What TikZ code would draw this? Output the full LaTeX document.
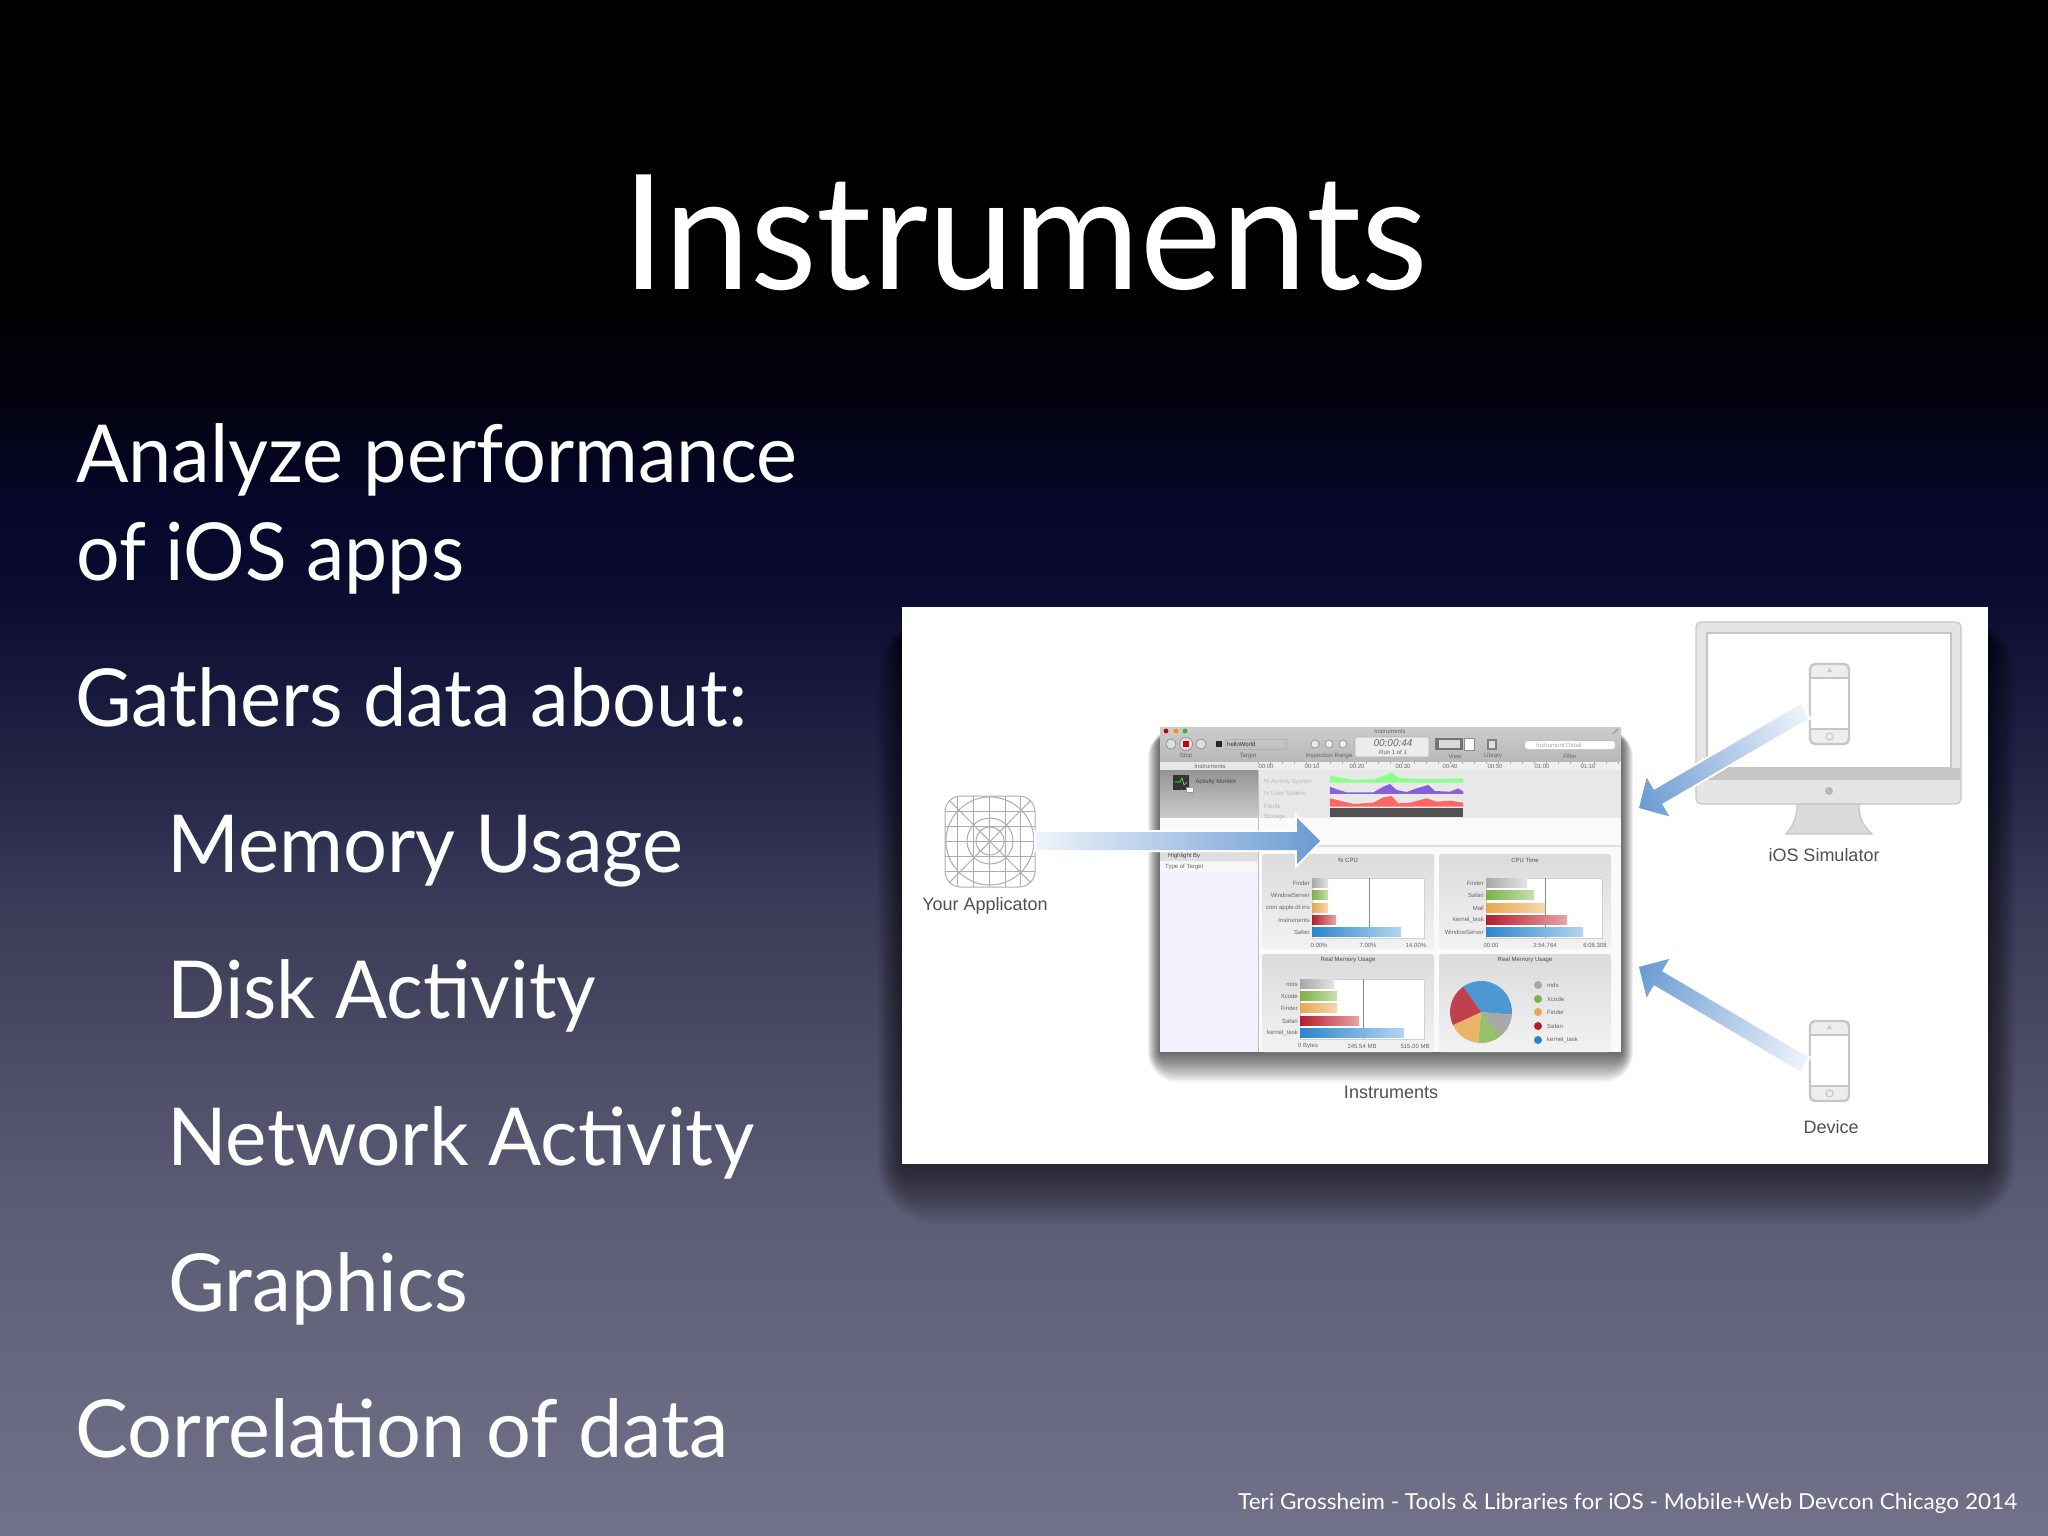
\documentclass[tikz,border=0pt]{standalone}
\usepackage{fontspec}
\usepackage{graphicx}
\setmainfont{Lato}
\newfontfamily\hv{Liberation Sans}
\usetikzlibrary{calc}
\definecolor{s0}{HTML}{000000}
\definecolor{s1}{HTML}{020210}
\definecolor{s2}{HTML}{06062A}
\definecolor{s3}{HTML}{0C0C30}
\definecolor{s4}{HTML}{1A1A3E}
\definecolor{s5}{HTML}{28284B}
\definecolor{s6}{HTML}{3A3A58}
\definecolor{s7}{HTML}{45455F}
\definecolor{s8}{HTML}{50506A}
\definecolor{s9}{HTML}{5B5B75}
\definecolor{s10}{HTML}{62627A}
\definecolor{s11}{HTML}{71718A}
\pgfdeclareverticalshading{slidebg}{100bp}{color(0bp)=(s11);color(25bp)=(s11);color(32.7bp)=(s10);color(35.95bp)=(s9);color(39.2bp)=(s8);color(42.45bp)=(s7);color(45.7bp)=(s6);color(48.95bp)=(s5);color(52.2bp)=(s4);color(55.47bp)=(s3);color(58.7bp)=(s2);color(61.98bp)=(s1);color(65.2bp)=(s0);color(100bp)=(s0)}
\definecolor{arrowblue}{HTML}{6A9BD3}
\definecolor{arrowpale}{HTML}{EEF3FA}
\definecolor{linegray}{HTML}{C6C6C6}
\definecolor{inktext}{HTML}{505050}
\definecolor{bgrayA}{HTML}{A8A8A8}\definecolor{bgrayB}{HTML}{E4E4E4}
\definecolor{bgreenA}{HTML}{7DB04A}\definecolor{bgreenB}{HTML}{C9DFAE}
\definecolor{borangeA}{HTML}{E8A74E}\definecolor{borangeB}{HTML}{F6D9AE}
\definecolor{bredA}{HTML}{B61E2E}\definecolor{bredB}{HTML}{E8A4A6}
\definecolor{bblueA}{HTML}{2C86CC}\definecolor{bblueB}{HTML}{B4D6EF}
\tikzset{
  slidetext/.style={anchor=base west,inner sep=0pt,text=white},
  figcap/.style={inner sep=0pt,text=inktext,font=\hv\fontsize{18}{20}\selectfont},
  tinytxt/.style={inner sep=0pt,text=#1,font=\hv\fontsize{6}{7}\selectfont},
  tinytxt/.default=black!60,
  panelbox/.style={rounded corners=3pt,top color=black!14,bottom color=black!5},
  plotbox/.style={fill=white,draw=black!18,line width=.6pt},
  iconline/.style={draw=black!32,line width=1pt},
  phoneline/.style={draw=linegray,line width=2.4pt},
  halo/.style={draw=white,line width=4pt,fill=white,line join=miter},
}
\newcommand{\body}[2]{\resizebox{#1pt}{\height}{\fontsize{80}{90}\selectfont #2}}
% tip x, tip y, angle, length, head length, head half width, shaft half width
\newcommand{\gradarrow}[7]{%
  \begin{scope}[transform canvas={shift={(#1,#2)},rotate=#3}]
    \path[halo] (0,0) -- (#5,#6) -- (#5,#7) -- (#4,#7) -- (#4,-#7) -- (#5,-#7) -- (#5,-#6) -- cycle;
    \shade[left color=arrowblue,right color=arrowpale] (0,0) -- (#5,#6) -- (#5,#7) -- (#4,#7) -- (#4,-#7) -- (#5,-#7) -- (#5,-#6) -- cycle;
  \end{scope}}
\newcommand{\phonepic}[1]{%
  \begin{scope}[shift={(1810,#1)}]
    \draw[phoneline,rounded corners=5pt,fill=black!7] (0,0) rectangle (39,80);
    \draw[draw=linegray,line width=1.4pt,fill=white] (0,14) rectangle (39,65);
    \draw[draw=linegray,line width=1pt] (19.5,72.5) circle (3.5);
    \fill[linegray] (17,8) -- (19.5,4) -- (22,8) -- cycle;
  \end{scope}}
\begin{document}
\begin{tikzpicture}[x=1pt,y=-1pt]
\useasboundingbox (0,0) rectangle (2048,1536);
\shade[shading=slidebg] (0,0) rectangle (2048,1536);
% slide text
\node[slidetext] (title) at (622,289) {\resizebox{806pt}{\height}{\fontsize{160}{170}\selectfont Instruments}};
\node[slidetext] (l1) at (76,482) {\body{721}{Analyze performance}};
\node[slidetext] (l2) at (76,580) {\body{388}{of iOS apps}};
\node[slidetext] (l3) at (75,726) {\body{672}{Gathers data about:}};
\node[slidetext] (l4) at (167,872) {\body{516}{Memory Usage}};
\node[slidetext] (l5) at (167,1018) {\body{429}{Disk Activity}};
\node[slidetext] (l6) at (167,1165) {\body{587}{Network Activity}};
\node[slidetext] (l7) at (168,1311) {\body{300}{Graphics}};
\node[slidetext] (l8) at (75,1457) {\body{654}{Correlation of data}};
\node[slidetext] (foot) at (1238,1509) {\resizebox{779pt}{\height}{\fontsize{22}{24}\selectfont Teri Grossheim - Tools \& Libraries for iOS - Mobile+Web Devcon Chicago 2014}};
% picture shadow and panel
\foreach \r in {0,4,...,60} \fill[black,opacity=.045,rounded corners=\r pt] ({902-\r*.4},{640-\r*.4}) rectangle ({1988+\r*.45},{1164+\r});
\fill[white] (902,607) rectangle (1988,1164);
% window shadow
\foreach \r in {0,2,...,30} \fill[black,opacity=.05,rounded corners=\r pt] ({1160-\r*.4},{740-\r*.4}) rectangle ({1621+\r*.4},{1052+\r});
% window
\shade[top color=black!20,bottom color=black!28] (1160,727) rectangle (1621,762);
\fill[black!6] (1160,762) rectangle (1621,770);
\fill[black!9] (1160,762) rectangle (1258,770);
\shade[top color=black!42,bottom color=black!20] (1160,770) rectangle (1258,818);
\fill[black!9] (1258,770) rectangle (1621,818);
\fill[black!2] (1160,818) rectangle (1621,845);
\fill[black!12] (1160,845) rectangle (1621,847);
\fill[black!2] (1258,847) rectangle (1621,1052);
\fill[blue!5!white] (1160,847) rectangle (1258,1052);
\fill[black!13] (1160,851) rectangle (1258,861);
\fill[black!3] (1162,862) rectangle (1256,872);
\draw[black!25,line width=.6pt] (1258,770) -- (1258,1052);
% toolbar
\fill[red!75!black] (1166,731) circle (2.4);
\fill[orange!90!yellow] (1176,731) circle (2.4);
\fill[green!60!black!80] (1185,731) circle (2.4);
\node[tinytxt] (wtitle) at (1390,731) {Instruments};
\draw[black!45,fill=black!12,line width=.7pt] (1171,744) circle (5);
\draw[black!45,fill=black!12,line width=.7pt] (1186,744) circle (6.5);
\fill[red!80!black] (1183,741) rectangle (1189,747);
\draw[black!45,fill=black!12,line width=.7pt] (1201,744) circle (5);
\fill[black!85] (1216,741) rectangle (1222,747);
\node[tinytxt=black!80,anchor=west] (target) at (1227,744) {helloWorld};
\draw[black!30,line width=.6pt] (1225,739) rectangle (1286,749);
\foreach \x in {1315,1329,1343} \draw[black!45,fill=black!8,line width=.7pt] (\x,744) circle (4);
\draw[black!30,fill=green!12!black!8,rounded corners=2pt,line width=.6pt] (1355,737) rectangle (1429,757);
\node[inner sep=0pt,text=black!60,font=\hv\itshape\fontsize{10}{11}\selectfont] (clock) at (1393,743) {00:00:44};
\node[tinytxt] (run) at (1393,752) {Run 1 of 1};
\fill[black!55] (1435,738) rectangle (1463,750);
\fill[black!15] (1439,740) rectangle (1460,748);
\draw[black!45,fill=white,line width=.6pt] (1464,738) rectangle (1474,750);
\fill[black!50] (1487,739) rectangle (1497,750);
\fill[black!12] (1489,741) rectangle (1495,748);
\fill[white,rounded corners=3pt] (1525,741) rectangle (1615,749);
\node[tinytxt=black!35,anchor=west] (search) at (1536,745) {Instrument Detail};
\draw[black!45,line width=1pt] (1613,734) -- (1618,729);
\foreach \x/\t [count=\i] in {1186/Stop,1248/Target,1329/Inspection Range,1455/View,1493/Library,1570/Filter}
  \node[tinytxt] (tb\i) at (\x,756) {\t};
\node[tinytxt] (rhead) at (1210,766) {Instruments};
\foreach \x/\t [count=\i] in {1266/00:00,1312/00:10,1357/00:20,1403/00:30,1450/00:40,1495/00:50,1542/01:00,1588/01:10}
  \node[tinytxt] (rt\i) at (\x,766) {\t};
\foreach \x in {1258,1270,...,1621} \draw[black!35,line width=.4pt] (\x,762) -- (\x,764);
% track
\fill[black!80] (1173,775) rectangle (1189,790);
\draw[green!70,line width=.6pt] (1175,782) -- (1180,782) -- (1182,778) -- (1184,785) -- (1187,782);
\fill[white,draw=black!40,line width=.4pt] (1186,787) rectangle (1193,792);
\node[tinytxt=black!75] (actmon) at (1216,782) {Activity Monitor};
\foreach \y/\t [count=\i] in {782/\% Activity System,794/\% User System,806/Faults/sec,817/Storage}
  \node[tinytxt=black!28,anchor=west] (tr\i) at (1264,\y) {\t};
\begin{scope}[shift={(1140,710)},x=.3333pt,y=-.3333pt]
  \fill[green!45!white] (570,218) -- (570,196) -- (600,203) -- (640,210) -- (700,208) -- (730,198) -- (755,187) -- (775,203) -- (830,207) -- (900,207) -- (970,205) -- (970,218) -- cycle;
  \fill[blue!55!white!85!red] (570,252) -- (570,230) -- (590,238) -- (620,247) -- (700,247) -- (730,230) -- (750,222) -- (770,240) -- (800,246) -- (830,235) -- (865,225) -- (885,243) -- (930,245) -- (955,235) -- (970,245) -- (970,252) -- cycle;
  \fill[red!60!white] (570,290) -- (570,265) -- (600,272) -- (640,282) -- (700,278) -- (730,262) -- (755,258) -- (775,280) -- (810,278) -- (860,265) -- (890,275) -- (930,272) -- (970,278) -- (970,290) -- cycle;
  \fill[black!68] (570,293) rectangle (970,322);
\end{scope}
% left detail pane
\node[tinytxt=black!75,anchor=west] (hl) at (1168,856) {Highlight By};
\node[tinytxt,anchor=west] (tt) at (1165,867) {Type of Target};
% panels
\shade[panelbox] (1262,854) rectangle (1434,949);
\shade[panelbox] (1439,854) rectangle (1611,949);
\shade[panelbox] (1262,954) rectangle (1434,1052);
\shade[panelbox] (1439,954) rectangle (1611,1052);
\foreach \x/\y/\t [count=\i] in {1348/860/\% CPU,1525/860/CPU Time,1348/960/Real Memory Usage,1525/960/Real Memory Usage}
  \node[tinytxt=black!70] (ph\i) at (\x,\y) {\t};
% panel 1
\draw[plotbox] (1312,878) rectangle (1424,938);
\draw[black!45,line width=.6pt] (1369,878) -- (1369,938);
\foreach \y/\e/\cl/\t [count=\i] in {883/1328/bgray/Finder,895/1328/bgreen/WindowServer,908/1328/borange/com.apple.dt.ins,920/1336/bred/Instruments,932/1401/bblue/Safari}{
  \shade[left color=\cl A,right color=\cl B] (1312,{\y-4.5}) rectangle (\e,{\y+4.5});
  \node[tinytxt,anchor=east] (pa\i) at (1310,\y) {\t};}
\foreach \x/\t [count=\i] in {1319/0.00\%,1368/7.00\%,1416/14.00\%} \node[tinytxt] (xa\i) at (\x,945) {\t};
% panel 2
\draw[plotbox] (1486,878) rectangle (1602,938);
\draw[black!45,line width=.6pt] (1545,878) -- (1545,938);
\foreach \y/\e/\cl/\t [count=\i] in {883/1527/bgray/Finder,895/1534/bgreen/Safari,908/1545/borange/Mail,920/1567/bred/kernel\_task,932/1583/bblue/WindowServer}{
  \shade[left color=\cl A,right color=\cl B] (1486,{\y-4.5}) rectangle (\e,{\y+4.5});
  \node[tinytxt,anchor=east] (pb\i) at (1484,\y) {\t};}
\foreach \x/\t [count=\i] in {1491/00:00,1545/2:54.764,1595/6:06.308} \node[tinytxt] (xb\i) at (\x,945) {\t};
% panel 3
\draw[plotbox] (1300,979) rectangle (1424,1039);
\draw[black!45,line width=.6pt] (1363,979) -- (1363,1039);
\foreach \y/\e/\cl/\t [count=\i] in {984/1334/bgray/mds,996/1337/bgreen/Xcode,1008/1337/borange/Finder,1021/1359/bred/Safari,1033/1404/bblue/kernel\_task}{
  \shade[left color=\cl A,right color=\cl B] (1300,{\y-4.5}) rectangle (\e,{\y+4.5});
  \node[tinytxt,anchor=east] (pc\i) at (1298,\y) {\t};}
\foreach \x/\t [count=\i] in {1308/0 Bytes,1362/245.54 MB,1415/515.00 MB} \node[tinytxt] (xc\i) at (\x,1046) {\t};
% pie
\begin{scope}[shift={(1481,1012)},y=1pt]
  \fill[bblueA!85!white] (0,0) -- (125:31pt) arc[start angle=125,end angle=-5,radius=31pt] -- cycle;
  \fill[bgrayA] (0,0) -- (-5:31pt) arc[start angle=-5,end angle=-50,radius=31pt] -- cycle;
  \fill[bgreenA!80!white] (0,0) -- (-50:31pt) arc[start angle=-50,end angle=-95,radius=31pt] -- cycle;
  \fill[borangeA!85!white] (0,0) -- (-95:31pt) arc[start angle=-95,end angle=-155,radius=31pt] -- cycle;
  \fill[bredA!85!white] (0,0) -- (-155:31pt) arc[start angle=-155,end angle=-235,radius=31pt] -- cycle;
\end{scope}
\foreach \y/\cl/\t [count=\i] in {985/bgray/mds,999/bgreen/Xcode,1012/borange/Finder,1026/bred/Safari,1040/bblue/kernel\_task}{
  \fill[\cl A] (1538,\y) circle (4);
  \node[tinytxt,anchor=west] (lg\i) at (1547,\y) {\t};}
% application icon
\draw[iconline,rounded corners=16pt] (945,796) rectangle (1035,887);
\begin{scope}
  \clip[rounded corners=16pt] (945,796) rectangle (1035,887);
  \foreach \x in {957,973,989,1005,1020} \draw[iconline] (\x,796) -- (\x,887);
  \foreach \y in {811,826,841,856,871} \draw[iconline] (945,\y) -- (1035,\y);
  \draw[iconline] (945,796) -- (1035,887);
  \draw[iconline] (1035,796) -- (945,887);
  \draw[iconline] (990,841) circle (44);
  \draw[iconline] (990,841) circle (23);
  \draw[iconline] (990,841) circle (14);
\end{scope}
\node[figcap] (yourapp) at (985,906) {Your Applicaton};
\node[figcap] (instr) at (1391,1092) {Instruments};
% monitor
\draw[black!22,line width=1.2pt,rounded corners=5pt,fill=black!10] (1696,622) rectangle (1961,804);
\fill[linegray] (1697,768) rectangle (1960,780);
\draw[linegray,line width=1.4pt,fill=white] (1707,633) rectangle (1951,768);
\draw[black!22,line width=1.2pt,fill=black!14] (1797,804) .. controls (1797,822) and (1790,828) .. (1786,834) -- (1872,834) .. controls (1866,828) and (1859,822) .. (1859,804) -- cycle;
\fill[black!28] (1829,791) circle (4);
\phonepic{664}
\phonepic{1021}
\node[figcap] (sim) at (1824,855) {iOS Simulator};
\node[figcap] (dev) at (1831,1127) {Device};
% arrows
\gradarrow{1320}{841}{180}{284}{23}{23}{9}
\gradarrow{1639}{808}{30.3}{192}{22}{22.5}{8}
\gradarrow{1639}{967}{-30.5}{192}{22}{22.5}{8}
\end{tikzpicture}
\end{document}
